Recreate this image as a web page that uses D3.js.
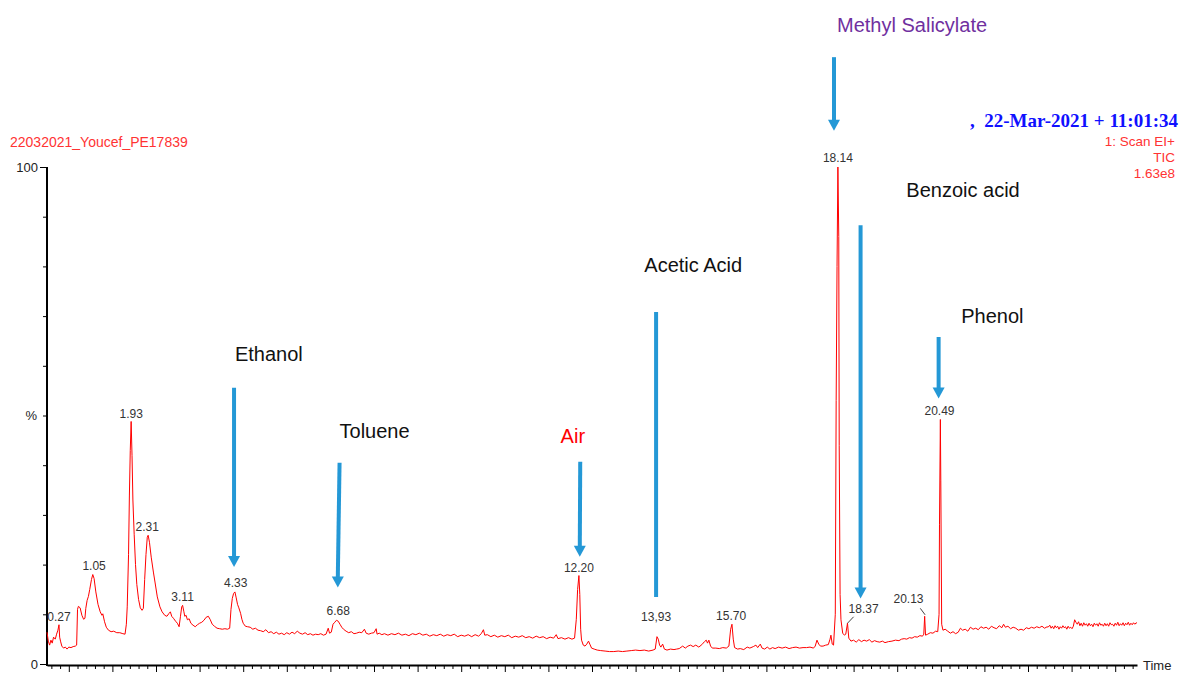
<!DOCTYPE html>
<html>
<head>
<meta charset="utf-8">
<script src="https://cdn.jsdelivr.net/npm/d3@7"></script>
<style>
  html, body { margin: 0; padding: 0; background: #ffffff; }
  svg { display: block; }
  text { font-family: "Liberation Sans", Arial, sans-serif; }
</style>
</head>
<body>
<script>
// ---------------- DATA ----------------
// TIC trace: [retention time (min), relative abundance (%)]
const tracePoints = [
  [0.00,6.4],[0.03,4.6],[0.06,3.8],[0.09,4.8],[0.12,4.2],[0.15,5.4],[0.19,5.0],[0.22,6.0],[0.25,6.8],[0.275,7.9],
  [0.29,5.4],[0.31,4.6],[0.34,3.6],[0.38,3.2],[0.42,3.4],[0.46,3.0],[0.50,3.4],[0.55,3.3],[0.60,3.5],[0.65,3.6],
  [0.68,3.8],[0.70,11.0],[0.72,11.6],[0.76,11.3],[0.80,9.8],[0.84,9.0],[0.87,9.2],[0.89,11.2],[0.92,12.8],[0.95,13.6],
  [0.98,15.0],[1.02,17.0],[1.05,18.0],[1.08,17.2],[1.12,14.5],[1.17,12.0],[1.22,10.5],[1.26,9.8],[1.28,10.1],[1.32,8.5],
  [1.36,7.4],[1.41,6.8],[1.47,6.5],[1.53,6.6],[1.60,6.3],[1.67,6.3],[1.74,6.1],[1.79,6.0],[1.82,8.0],[1.84,11.5],
  [1.87,22],[1.89,34],[1.91,43],[1.93,48.8],[1.95,42],[1.97,33],[2.00,26],[2.03,20],[2.06,16],[2.10,13],
  [2.14,11.3],[2.18,10.8],[2.21,11.2],[2.24,17],[2.27,22],[2.30,25.5],[2.32,25.9],[2.35,24.5],[2.39,21.5],[2.44,18.5],
  [2.48,16.3],[2.53,13.5],[2.59,11.5],[2.64,10.5],[2.70,9.8],[2.75,9.6],[2.80,10.2],[2.83,10.5],[2.86,9.6],[2.90,9.2],
  [2.95,8.6],[2.99,8.2],[3.03,7.5],[3.06,9.5],[3.09,11.5],[3.11,11.8],[3.14,10.5],[3.16,9.6],[3.19,9.8],[3.22,8.9],
  [3.26,9.1],[3.30,8.2],[3.35,7.8],[3.40,7.5],[3.45,7.9],[3.50,8.2],[3.55,8.4],[3.60,8.8],[3.65,9.4],[3.70,9.6],
  [3.74,9.0],[3.79,8.0],[3.84,7.6],[3.90,7.2],[3.96,7.1],[4.02,7.0],[4.08,7.1],[4.14,7.0],[4.19,7.2],[4.22,11.0],
  [4.25,13.2],[4.28,14.2],[4.31,14.5],[4.34,13.3],[4.37,12.0],[4.40,11.3],[4.44,10.2],[4.47,9.0],[4.50,8.2],[4.55,7.6],
  [4.60,7.5],[4.66,7.4],[4.72,7.0],[4.78,7.2],[4.84,6.8],[4.90,6.7],[4.96,6.5],[5.02,6.9],[5.08,6.3],[5.14,6.5],
  [5.20,6.1],[5.26,6.4],[5.32,6.0],[5.38,6.2],[5.44,5.9],[5.50,6.3],[5.56,6.0],[5.62,6.4],[5.68,6.1],[5.74,6.6],
  [5.80,6.2],[5.86,6.0],[5.92,6.3],[5.98,5.9],[6.04,6.1],[6.10,5.8],[6.16,6.0],[6.22,5.9],[6.28,6.1],[6.34,5.8],
  [6.40,6.0],[6.45,7.2],[6.48,6.2],[6.52,6.4],[6.56,8.0],[6.60,8.4],[6.64,8.8],[6.68,8.6],[6.72,8.0],[6.76,7.4],
  [6.80,7.0],[6.86,6.6],[6.92,6.3],[6.98,6.5],[7.04,6.1],[7.10,6.2],[7.16,6.4],[7.22,6.3],[7.28,7.0],[7.32,6.2],
  [7.38,6.0],[7.44,6.2],[7.50,6.3],[7.55,7.1],[7.57,6.0],[7.62,6.2],[7.68,5.9],[7.74,6.1],[7.82,5.8],[7.90,6.1],
  [7.98,5.9],[8.06,6.2],[8.14,5.8],[8.22,6.0],[8.30,5.7],[8.38,6.1],[8.46,5.9],[8.54,6.2],[8.62,5.8],[8.70,6.0],
  [8.78,5.6],[8.86,5.9],[8.94,5.7],[9.02,6.0],[9.10,5.6],[9.18,5.9],[9.26,5.7],[9.34,6.0],[9.42,5.5],[9.50,5.8],
  [9.58,5.6],[9.66,5.9],[9.74,5.5],[9.82,5.9],[9.90,5.6],[9.96,6.1],[10.01,6.9],[10.04,5.8],[10.10,5.9],[10.18,5.5],
  [10.26,5.8],[10.34,5.4],[10.42,5.7],[10.50,5.5],[10.58,5.8],[10.66,5.3],[10.74,5.6],[10.82,5.4],[10.90,5.7],[10.98,5.3],
  [11.06,5.5],[11.14,5.2],[11.22,5.6],[11.30,5.3],[11.38,5.5],[11.46,5.1],[11.54,5.4],[11.62,5.2],[11.68,5.9],[11.72,5.1],
  [11.80,5.3],[11.88,5.0],[11.96,5.3],[12.04,5.0],[12.10,5.2],[12.14,9.0],[12.17,15.0],[12.20,17.8],[12.22,14.0],[12.24,7.0],
  [12.26,4.8],[12.30,3.8],[12.34,3.6],[12.38,4.0],[12.42,4.6],[12.45,4.0],[12.49,3.2],[12.55,3.0],[12.62,2.8],[12.70,2.7],
  [12.80,2.6],[12.90,2.5],[13.00,2.5],[13.10,2.6],[13.20,2.5],[13.30,2.6],[13.40,2.7],[13.50,2.8],[13.60,2.7],[13.70,2.8],
  [13.80,2.6],[13.90,2.8],[13.95,3.0],[13.99,5.5],[14.02,5.0],[14.05,3.8],[14.08,3.4],[14.12,4.0],[14.16,3.0],[14.22,2.8],
  [14.30,3.0],[14.38,2.9],[14.44,3.0],[14.50,3.1],[14.58,3.6],[14.64,3.2],[14.70,3.6],[14.76,3.8],[14.82,3.5],[14.88,3.8],
  [14.95,3.4],[15.02,3.9],[15.08,4.5],[15.12,4.8],[15.15,4.2],[15.18,4.8],[15.22,3.6],[15.26,3.2],[15.34,3.2],[15.42,3.1],
  [15.50,3.3],[15.58,3.2],[15.64,3.6],[15.68,7.0],[15.71,8.0],[15.74,5.0],[15.77,3.3],[15.84,3.0],[15.90,3.1],[15.98,2.9],
  [16.06,3.4],[16.12,3.2],[16.20,3.5],[16.26,3.8],[16.30,3.3],[16.36,4.0],[16.40,3.2],[16.46,3.0],[16.52,3.4],[16.58,3.0],
  [16.64,3.3],[16.70,3.1],[16.78,3.4],[16.86,3.2],[16.94,3.4],[17.02,3.1],[17.10,3.3],[17.18,3.4],[17.26,3.2],[17.34,3.3],
  [17.42,3.3],[17.50,3.4],[17.58,3.2],[17.62,3.6],[17.66,4.8],[17.70,4.0],[17.74,3.6],[17.80,3.6],[17.86,3.8],[17.92,3.9],
  [17.96,5.0],[17.98,5.8],[18.01,4.0],[18.04,3.8],[18.08,10.0],[18.10,53.0],[18.12,80.0],[18.14,100.0],[18.16,86.0],[18.17,44.0],
  [18.19,14.0],[18.21,8.9],[18.25,6.2],[18.29,5.8],[18.32,6.0],[18.36,8.2],[18.39,5.2],[18.44,4.6],[18.50,4.8],[18.56,4.4],
  [18.62,4.9],[18.68,4.5],[18.74,4.8],[18.80,4.6],[18.86,4.9],[18.92,4.4],[18.98,4.7],[19.04,4.5],[19.10,4.4],[19.16,4.6],
  [19.22,4.3],[19.30,4.5],[19.38,4.6],[19.46,4.8],[19.54,4.7],[19.60,5.0],[19.66,5.1],[19.72,5.0],[19.78,5.3],[19.84,5.2],
  [19.90,5.5],[19.96,5.4],[20.02,5.7],[20.08,5.6],[20.11,6.0],[20.13,9.6],[20.15,5.8],[20.20,6.0],[20.26,6.3],[20.32,6.2],
  [20.38,6.6],[20.43,6.5],[20.46,10.0],[20.47,28.0],[20.49,49.2],[20.50,37.0],[20.52,8.0],[20.55,6.8],[20.60,7.0],[20.66,6.6],
  [20.72,6.2],[20.78,6.5],[20.84,6.1],[20.90,6.4],[20.95,7.2],[21.00,6.8],[21.06,7.0],[21.12,6.6],[21.18,7.4],[21.24,7.0],
  [21.30,7.2],[21.36,6.9],[21.42,7.5],[21.48,7.2],[21.54,7.4],[21.60,7.0],[21.66,7.6],[21.72,7.3],[21.78,7.1],[21.84,7.7],
  [21.90,7.3],[21.94,8.0],[21.98,7.4],[22.04,7.6],[22.10,7.1],[22.16,7.4],[22.22,7.2],[22.28,6.8],[22.34,7.0],[22.40,6.8],
  [22.46,7.3],[22.52,7.1],[22.58,7.4],[22.64,7.2],[22.70,7.5],[22.76,7.3],[22.82,7.6],[22.88,7.2],[22.94,7.5],[22.96,7.4],
  [23.00,7.8],[23.03,7.2],[23.06,7.6],[23.09,7.1],[23.12,7.7],[23.15,7.3],[23.18,7.6],[23.21,7.0],[23.24,7.5],[23.27,7.2],
  [23.30,7.7],[23.33,7.3],[23.36,7.5],[23.39,7.0],[23.42,7.6],[23.45,7.2],[23.48,7.4],[23.51,7.1],[23.54,7.6],[23.57,8.9],
  [23.60,8.4],[23.63,8.0],[23.66,8.5],[23.69,7.7],[23.72,8.2],[23.75,7.6],[23.78,8.3],[23.81,7.8],[23.84,8.1],[23.87,7.6],
  [23.90,8.2],[23.93,7.7],[23.96,8.0],[23.99,7.5],[24.02,8.2],[24.05,7.8],[24.08,8.1],[24.11,7.6],[24.14,8.3],[24.17,7.8],
  [24.20,8.0],[24.23,7.6],[24.26,8.2],[24.29,7.7],[24.32,8.1],[24.35,7.6],[24.38,8.3],[24.41,7.9],[24.44,8.0],[24.47,7.6],
  [24.50,8.2],[24.53,7.8],[24.56,8.4],[24.59,7.7],[24.62,8.1],[24.65,7.8],[24.68,8.3],[24.71,7.7],[24.74,8.2],[24.77,7.9],
  [24.80,8.4],[24.83,7.8],[24.86,8.2],[24.89,7.9],[24.92,8.3],[24.95,8.0],[24.98,8.3],[25.00,8.2]
];

// Peak labels: text, time position, abundance level of label baseline
const peakLabelText  = ["0.27","1.05","1.93","2.31","3.11","4.33","6.68","12.20","13,93","15.70","18.14","18.37","20.13","20.49"];
const peakLabelTime  = [0.275, 1.08, 1.93, 2.30, 3.11, 4.33, 6.68, 12.20, 13.97, 15.69, 18.14, 18.73, 19.76, 20.47];
const peakLabelLevel = [8.7, 18.9, 49.5, 26.8, 12.7, 15.4, 9.9, 18.6, 8.7, 8.9, 101.1, 10.2, 12.2, 50.1];

// Leader lines for offset peak labels: [t0, v0, t1, v1]
const leaderLines = [[18.36, 8.2, 18.50, 9.5], [20.03, 11.2, 20.14, 9.9]];

// Y axis
const yTickValues = [0,10,20,30,40,50,60,70,80,90,100];
const yTickLabels = {0: "0", 50: "%", 100: "100"};

// Header texts
const sampleName = "22032021_Youcef_PE17839";
const acqDate = ",  22-Mar-2021 + 11:01:34";
const scanInfo = ["1: Scan EI+", "TIC", "1.63e8"];

// Compound annotations (positions in data units: time, %)
const annLabel    = ["Methyl Salicylate", "Benzoic acid", "Acetic Acid", "Phenol", "Ethanol", "Toluene", "Air"];
const annTextTime = [18.12, 19.71, 13.70, 20.97, 4.31, 6.71, 11.78];
const annTextLvl  = [127.2, 94.0, 78.8, 68.6, 61.0, 45.4, 44.4];
const annTopTime  = [18.05, 18.66, 13.97, 20.45, 4.29, 6.71, 12.23];
const annTopLvl   = [122.1, 88.3, 70.8, 65.8, 55.6, 40.5, 40.7];
const annTipTime  = [18.05, 18.66, 13.97, 20.45, 4.29, 6.67, 12.22];
const annTipLvl   = [107.3, 13.2, 13.7, 53.4, 19.5, 15.4, 21.6];
const annHasHead  = [true, true, false, true, true, true, true];

// ---------------- STYLE ----------------
const W = 1181, H = 673;
const traceColor = "#ff0000";
const headerRed = "#ff3333";
const arrowColor = "#2498d6";
const annColor = {"Methyl Salicylate": "#7030a0", "Air": "#ff0000"};

const svg = d3.select("body").append("svg").attr("width", W).attr("height", H);

const x = d3.scaleLinear().domain([0, 25]).range([47, 1137]);
const y = d3.scaleLinear().domain([0, 100]).range([664, 167]);

// ---------- axes ----------
const xTicks = d3.range(0.1, 25, 0.2);
const xAxis = d3.axisBottom(x).tickValues(xTicks).tickFormat("").tickSize(4).tickSizeOuter(0);
const gx = svg.append("g").attr("transform", "translate(0,665)").call(xAxis);
gx.select(".domain").attr("stroke", "#000").attr("stroke-width", 2);
gx.selectAll(".tick line")
  .attr("stroke", "#000")
  .attr("y2", d => Math.abs((d % 1) - 0.5) < 1e-6 ? 7 : 4);

const yAxis = d3.axisLeft(y).tickValues(yTickValues).tickSize(4).tickSizeOuter(0)
  .tickFormat(d => yTickLabels[d] || "");
const gy = svg.append("g").attr("transform", "translate(47,0)").call(yAxis);
gy.select(".domain").attr("stroke", "#000").attr("stroke-width", 2).attr("d", "M0,167V666");
gy.selectAll(".tick line").attr("stroke", "#000")
  .attr("x2", d => (d === 100 || d === 0) ? -7 : -4);
gy.selectAll(".tick text")
  .attr("x", d => d === 50 ? -10 : -9)
  .attr("font-size", 13)
  .attr("fill", "#222")
  .style("font-family", "'Liberation Sans', Arial, sans-serif");

svg.append("text").attr("x", 1143).attr("y", 670).attr("font-size", 13).attr("fill", "#222").text("Time");

// ---------- trace ----------
const line = d3.line().x(d => x(d[0])).y(d => y(d[1]));
svg.append("path").datum(tracePoints)
  .attr("d", line)
  .attr("fill", "none")
  .attr("stroke", traceColor)
  .attr("stroke-width", 1)
  .attr("stroke-linejoin", "round");

// ---------- peak labels ----------
svg.append("g").selectAll("text")
  .data(peakLabelText)
  .join("text")
  .attr("x", (d, i) => x(peakLabelTime[i]))
  .attr("y", (d, i) => y(peakLabelLevel[i]))
  .attr("text-anchor", "middle")
  .attr("font-size", 12)
  .attr("fill", "#333")
  .text(d => d);

svg.append("g").selectAll("line")
  .data(leaderLines)
  .join("line")
  .attr("x1", d => x(d[0])).attr("y1", d => y(d[1]))
  .attr("x2", d => x(d[2])).attr("y2", d => y(d[3]))
  .attr("stroke", "#444").attr("stroke-width", 1);

// ---------- header ----------
svg.append("text").attr("x", 10).attr("y", 147).attr("font-size", 14)
  .attr("fill", headerRed).text(sampleName);

svg.append("text").attr("x", 1178).attr("y", 127)
  .attr("text-anchor", "end")
  .attr("font-size", 19).attr("font-weight", "bold")
  .style("font-family", "'Liberation Serif', 'Times New Roman', serif")
  .style("white-space", "pre")
  .attr("fill", "#1010ff")
  .text(acqDate);

svg.append("g").selectAll("text")
  .data(scanInfo)
  .join("text")
  .attr("x", 1175)
  .attr("y", (d, i) => 146 + i * 16)
  .attr("text-anchor", "end")
  .attr("font-size", 13.5)
  .attr("fill", headerRed)
  .text(d => d);

// ---------- annotations ----------
const ann = svg.append("g");
annLabel.forEach((lab, i) => {
  ann.append("text")
    .attr("x", x(annTextTime[i]))
    .attr("y", y(annTextLvl[i]))
    .attr("font-size", 20)
    .attr("fill", annColor[lab] || "#111")
    .text(lab);
  const x0 = x(annTopTime[i]), y0 = y(annTopLvl[i]);
  const x1 = x(annTipTime[i]), y1 = y(annTipLvl[i]);
  const head = annHasHead[i] ? 11 : 0;
  ann.append("line")
    .attr("x1", x0).attr("y1", y0)
    .attr("x2", x1).attr("y2", y1 - head + 1)
    .attr("stroke", arrowColor).attr("stroke-width", 4);
  if (annHasHead[i]) {
    ann.append("path")
      .attr("d", `M${x1},${y1} L${x1 - 6},${y1 - head} L${x1 + 6},${y1 - head} Z`)
      .attr("fill", arrowColor);
  }
});
</script>
</body>
</html>
